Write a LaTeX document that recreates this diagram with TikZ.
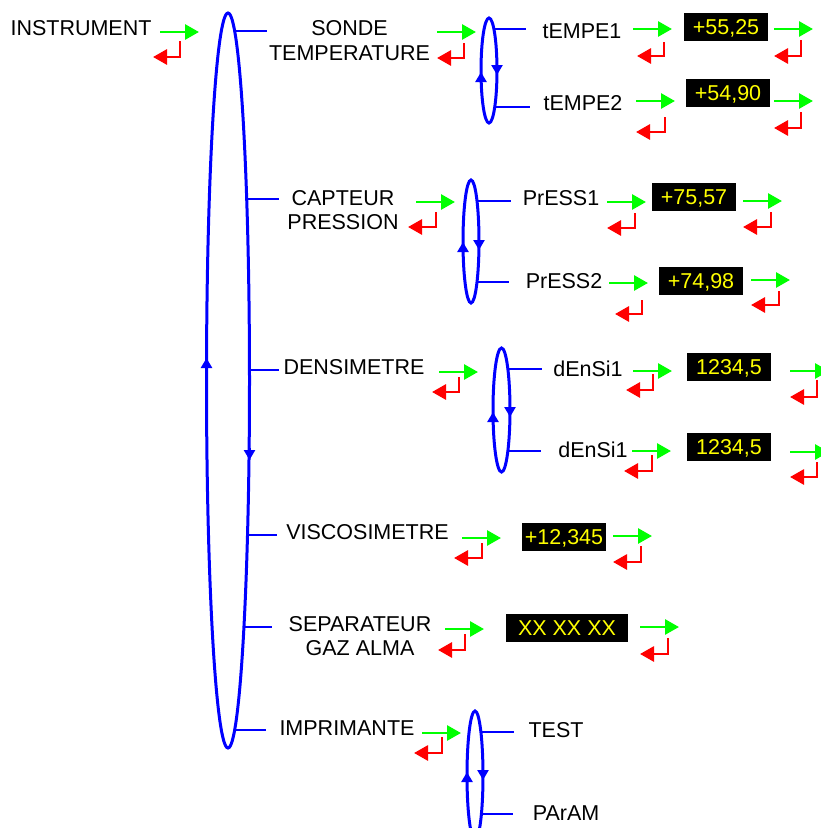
\documentclass[tikz,border=0pt]{standalone}
\usepackage{fontspec}
\setmainfont{Liberation Sans}
\usetikzlibrary{arrows.meta,shapes.geometric}
\definecolor{navgreen}{RGB}{0,255,0}
\definecolor{navred}{RGB}{255,0,0}
\definecolor{navblue}{RGB}{0,0,255}
\definecolor{valyellow}{RGB}{255,255,0}
\newcommand\brline[6]{\draw[bl] ({#1+#3*sqrt(1-((#5-#2)/#4)^2)},#5) -- (#6,#5);}
\newcommand\navp[6]{\draw[gr] (#1,#2) -- ({#1+39},#2); \draw[rd] (#3,#4) -- (#3,#5) -- (#6,#5);}
\newcommand\upar[2]{\draw[bl,-{Triangle[length=10pt,width=11pt]}] (#1,{#2+12}) -- (#1,#2);}
\newcommand\dnar[2]{\draw[bl,-{Triangle[length=10pt,width=11pt]}] (#1,{#2-12}) -- (#1,#2);}
\begin{document}
\begin{tikzpicture}[x=1pt,y=-1pt,
  lbl/.style={inner sep=0pt, font=\fontsize{21.5}{24.5}\selectfont, text height=15.4pt, text depth=0pt},
  lbltwo/.style={inner sep=0pt, font=\fontsize{21.5}{24.5}\selectfont, align=center},
  valbox/.style={fill=black, text=valyellow, inner sep=0pt, minimum width=84pt, minimum height=28pt,
     font=\fontsize{21.5}{24.5}\selectfont, text height=15.4pt, text depth=0pt},
  bl/.style={draw=navblue, line width=2.8pt},
  ell/.style={ellipse, draw=navblue, line width=3pt, inner sep=0pt},
  gr/.style={draw=navgreen, line width=2.8pt, -{Triangle[length=14pt,width=15pt]}},
  rd/.style={draw=navred, line width=2.8pt, -{Triangle[length=14pt,width=15pt]}}]
\useasboundingbox (0,0) rectangle (821,828);

% main loop
\node[ell, minimum width=43pt, minimum height=735pt] (mainloop) at (228,380.5) {};
\upar{206.5}{358}
\dnar{249.5}{460}
\brline{228}{380.5}{21.5}{367.5}{31}{267}
\brline{228}{380.5}{21.5}{367.5}{199}{279}
\brline{228}{380.5}{21.5}{367.5}{370}{279}
\brline{228}{380.5}{21.5}{367.5}{535}{277}
\brline{228}{380.5}{21.5}{367.5}{627}{272}
\brline{228}{380.5}{21.5}{367.5}{730}{266}

% sub loops
\node[ell, minimum width=16pt, minimum height=105pt] (loopA) at (489,70.5) {};
\upar{481}{72}\dnar{497}{75}
\brline{489}{70.5}{8}{52.5}{29}{526}
\brline{489}{70.5}{8}{52.5}{107}{530}

\node[ell, minimum width=16pt, minimum height=123pt] (loopB) at (471,241.5) {};
\upar{463}{242}\dnar{479}{250}
\brline{471}{241.5}{8}{61.5}{201}{511}
\brline{471}{241.5}{8}{61.5}{282}{509}

\node[ell, minimum width=17pt, minimum height=124pt] (loopC) at (501.5,410) {};
\upar{493}{412}\dnar{510}{417}
\brline{501.5}{410}{8.5}{62}{369}{542}
\brline{501.5}{410}{8.5}{62}{451}{541}

\node[ell, minimum width=16pt, minimum height=129pt] (loopD) at (475,775.5) {};
\upar{467}{772}\dnar{483}{780}
\brline{475}{775.5}{8}{64.5}{732}{514}
\brline{475}{775.5}{8}{64.5}{814}{513}

% labels
\node[lbl] (instr) at (81,28) {INSTRUMENT};
\node[lbltwo] (sonde) at (349.5,40.5) {SONDE\\TEMPERATURE};
\node[lbl] (t1) at (582,30.5) {tEMPE1};
\node[lbl] (t2) at (583,102.5) {tEMPE2};
\node[lbltwo] (capt) at (343,210) {CAPTEUR\\PRESSION};
\node[lbl] (p1) at (561,197.5) {PrESS1};
\node[lbl] (p2) at (564,280.5) {PrESS2};
\node[lbl] (dens) at (354,366.5) {DENSIMETRE};
\node[lbl] (d1) at (588,368.5) {dEnSi1};
\node[lbl] (d2) at (593,450) {dEnSi1};
\node[lbl] (visc) at (367.5,531.5) {VISCOSIMETRE};
\node[lbltwo] (sep) at (360,636) {SEPARATEUR\\GAZ ALMA};
\node[lbl] (impr) at (347,728) {IMPRIMANTE};
\node[lbl] (test) at (556,729.5) {TEST};
\node[lbl] (param) at (566,813) {PArAM};

% value boxes
\node[valbox] (v1) at (726,27) {+55,25};
\node[valbox] (v2) at (728,93) {+54,90};
\node[valbox] (v3) at (694,196.5) {+75,57};
\node[valbox] (v4) at (701,280.5) {+74,98};
\node[valbox] (v5) at (729,366.5) {1234,5};
\node[valbox] (v6) at (729,446.5) {1234,5};
\node[valbox] (v7) at (564,537) {+12,345};
\node[valbox, minimum width=122pt] (v8) at (567,628) {XX XX XX};

% navigation arrows
\navp{160}{32}{180}{41}{57}{153}
\navp{437}{32}{464}{43}{58}{437}
\navp{633}{29}{664}{42}{56}{637}
\navp{774}{29}{801}{40}{56}{774}
\navp{636}{101}{665}{117}{132}{636}
\navp{774}{101}{801}{112}{128}{774}
\navp{416}{202}{436}{212}{227}{408}
\navp{607}{202}{635}{213}{228}{607}
\navp{743}{201}{771}{212}{227}{743}
\navp{609}{283}{642}{300}{314}{615}
\navp{751}{280}{779}{291}{305}{751}
\navp{439}{372}{459}{377}{392}{432}
\navp{633}{371}{653}{374}{390}{626}
\navp{790}{371}{817}{380}{397}{790}
\navp{632}{451}{652}{455}{471}{624}
\navp{790}{452}{817}{462}{477}{790}
\navp{462}{538}{482}{543}{558}{454}
\navp{613}{536}{641}{546}{562}{613}
\navp{445}{629}{465}{634}{650}{438}
\navp{640}{627}{668}{638}{654}{640}
\navp{422}{733}{442}{737}{753}{414}
\end{tikzpicture}
\end{document}
